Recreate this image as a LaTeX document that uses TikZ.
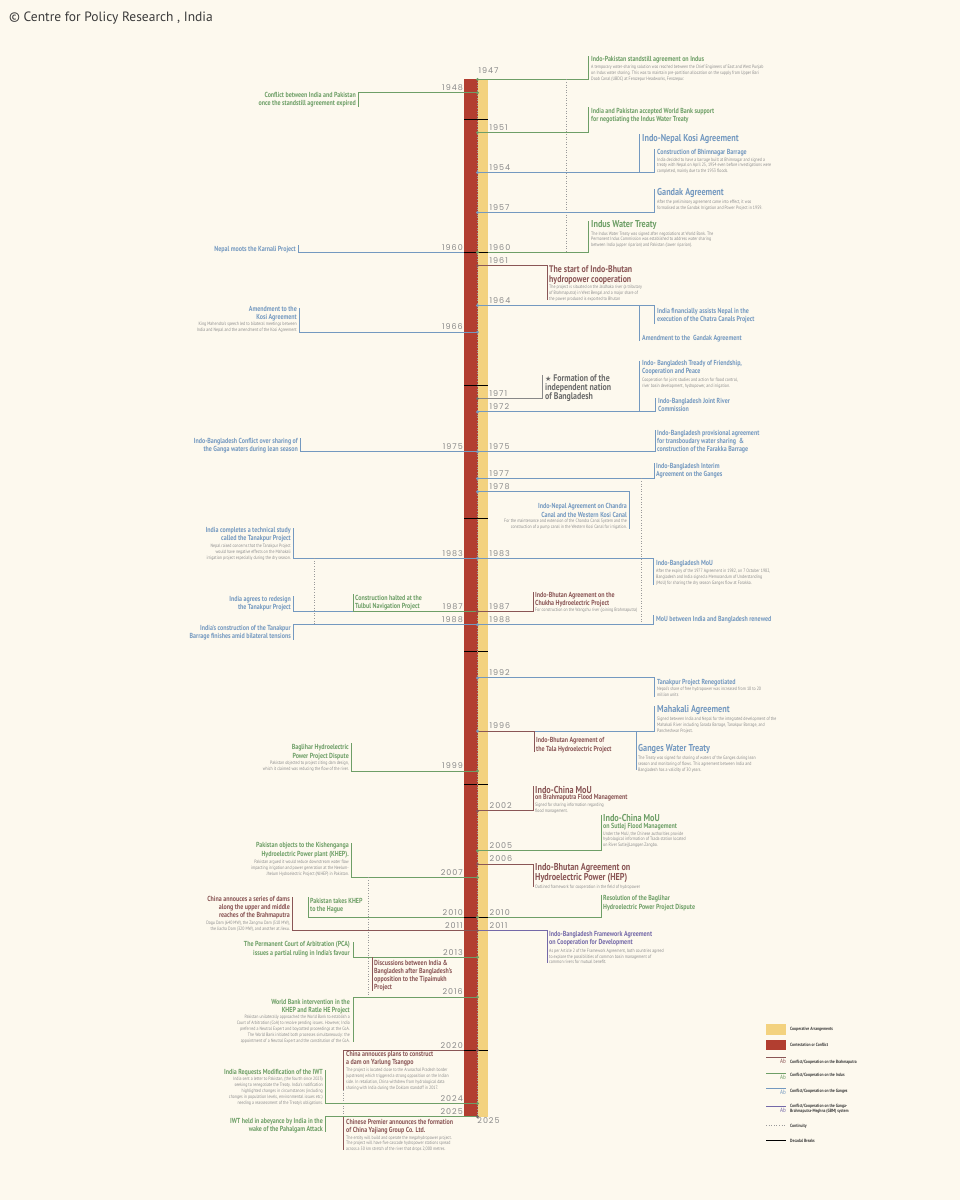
\documentclass[tikz,border=0pt]{standalone}
\usepackage{fontspec}
\setmainfont{PT Sans}[FakeStretch=0.82]
\newfontfamily\headfont{PT Sans}
\newfontfamily\yearfont{Poppins}[LetterSpace=12]
\newfontfamily\symfont{DejaVu Sans}
\usetikzlibrary{positioning}
\definecolor{PaperBg}{HTML}{FDF9EE}
\definecolor{Coop}{HTML}{F3D27F}
\definecolor{Conf}{HTML}{B23E30}
\definecolor{Bra}{HTML}{8A5656}
\definecolor{Ind}{HTML}{6E9F67}
\definecolor{Gan}{HTML}{7499C0}
\definecolor{Gbm}{HTML}{7469A8}
\definecolor{Ban}{HTML}{6A6A6A}
\definecolor{DescGray}{HTML}{8C8C8C}
\definecolor{ContGray}{HTML}{9A9A9A}
\definecolor{YearGray}{HTML}{8A8A8A}
\definecolor{LegText}{HTML}{3A3A3A}
\definecolor{TitleGray}{HTML}{3A3A3A}
\tikzset{
  rgt/.style={anchor=north west,align=left},
  lft/.style={anchor=north east,align=right},
  tS/.style={inner sep=0pt,font=\fontsize{7.3}{8}\selectfont\bfseries},
  tM/.style={inner sep=0pt,font=\fontsize{9.6}{9.4}\selectfont\bfseries},
  tL/.style={inner sep=0pt,font=\fontsize{10}{9}\selectfont\bfseries},
  dS/.style={inner sep=0pt,align=left,text=DescGray,font=\fontsize{4.8}{5.9}\selectfont},
  conn/.style={line width=0.9pt},
  cB/.style={conn,draw=Bra},
  cI/.style={conn,draw=Ind},
  cG/.style={conn,draw=Gan},
  cM/.style={conn,draw=Gbm},
  cK/.style={conn,draw=Ban!80},
  cont/.style={draw=ContGray,line width=0.6pt,dotted},
  dec/.style={draw=black,line width=1pt},
  yrR/.style={anchor=base west,inner sep=0pt,xshift=12pt,yshift=2.2pt,
              font=\yearfont\fontsize{8}{8}\selectfont,text=YearGray},
  yrL/.style={anchor=base east,inner sep=0pt,xshift=-14.5pt,yshift=2.2pt,
              font=\yearfont\fontsize{8}{8}\selectfont,text=YearGray},
  lgT/.style={anchor=west,inner sep=0pt,align=left,text=LegText,
              font=\fontsize{4.6}{5.6}\selectfont\bfseries},
  lgA/.style={anchor=east,inner sep=0pt,font=\fontsize{6.2}{6.2}\selectfont}
}

\begin{document}
\begin{tikzpicture}[x=1pt,y=-1pt]
  \fill[PaperBg] (0,0) rectangle (960,1200);
  \useasboundingbox (0,0) rectangle (960,1200);

  \node[anchor=west,inner sep=0pt,text=TitleGray,font=\headfont\fontsize{13.5}{15}\selectfont] (head) at (9,18) {© Centre for Policy Research , India};

  % axis
  \foreach \yy in {1947,...,2025}
    \coordinate (d\yy) at (477.5,{119.3+(\yy-1950)*13.3});
  \fill[Conf] (464,79) rectangle (477.5,1117);
  \fill[Coop] (477.5,80) rectangle (488,1117);

  % 1947
  \coordinate (k1947) at (588,56);
  \draw[cI] (d1947) -| (k1947);
  \node[tS,rgt,text=Ind] (t1947) at (591,56.5) {Indo-Pakistan standstill agreement on Indus};
  \node[dS,below right=1.2pt and 0pt of t1947.south west] (s1947) {A temporary water-sharing solution was reached between the Chief Engineers of East and West Punjab\\on Indus water sharing. This was to maintain pre-partition allocation on the supply from Upper Bari\\Doab Canal (UBDC) at Ferozepur Headworks, Ferozepur.};
  \coordinate (c1947) at (566,79.4);
  \coordinate (c1960) at (566,252.3);
  \draw[cont] (c1947) -- (c1960);

  % 1948
  \coordinate (k1948) at (358,107);
  \draw[cI] (d1948) -| (k1948);
  \node[tS,lft,text=Ind] (t1948) at (356,92.5) {Conflict between India and Pakistan\\once the standstill agreement expired};

  % 1951
  \coordinate (k1951) at (588,107);
  \draw[cI] (d1951) -| (k1951);
  \node[tS,rgt,text=Ind] (t1951) at (591,107.7) {India and Pakistan accepted World Bank support\\for negotiating the Indus Water Treaty};

  % 1954
  \coordinate (k1954a) at (639,134);
  \coordinate (k1954b) at (654,149);
  \draw[cG] (d1954) -| (k1954a);
  \draw[cG] (d1954) -| (k1954b);
  \node[tL,rgt,text=Gan] (t1954a) at (642,134.5) {Indo-Nepal Kosi Agreement};
  \node[tS,rgt,text=Gan] (t1954b) at (657,149.3) {Construction of Bhimnagar Barrage};
  \node[dS,below right=1pt and 0pt of t1954b.south west] (s1954) {India decided to have a barrage built at Bhimnagar and signed a\\treaty with Nepal on April 25, 1954 even before investigations were\\completed, mainly due to the 1953 floods.};

  % 1957
  \coordinate (k1957) at (654,189);
  \draw[cG] (d1957) -| (k1957);
  \node[tL,rgt,text=Gan] (t1957) at (657,188.5) {Gandak Agreement};
  \node[dS,below right=1.5pt and 0pt of t1957.south west] (s1957) {After the preliminary agreement came into effect, it was\\formalised as the Gandak Irrigation and Power Project in 1959.};

  % 1960
  \coordinate (k1960) at (588,221);
  \draw[cI] (d1960) -| (k1960);
  \node[tL,rgt,text=Ind] (t1960) at (591,220.5) {Indus Water Treaty};
  \node[dS,below right=1.5pt and 0pt of t1960.south west] (s1960) {The Indus Water Treaty was signed after negotiations at World Bank. The\\Permanent Indus Commission was established to address water sharing\\between India (upper riparian) and Pakistan (lower riparian).};
  \coordinate (k1960l) at (298,245);
  \draw[cG] (d1960) -| (k1960l);
  \node[tS,lft,text=Gan] (t1960l) at (296,246.3) {Nepal moots the Karnali Project};

  % 1961
  \coordinate (k1961) at (547,300);
  \draw[cB] (d1961) -| (k1961);
  \node[tM,rgt,text=Bra] (t1961) at (549,265.6) {The start of Indo-Bhutan\\hydropower cooperation};
  \node[dS,below right=1pt and 0pt of t1961.south west] (s1961) {The project is situated on the Jaldhaka river (a tributary\\of Brahmaputra) in West Bengal and a major share of\\the power produced is exported to Bhutan};

  % 1964
  \coordinate (k1964a) at (654,324);
  \coordinate (k1964b) at (639,341);
  \draw[cG] (d1964) -| (k1964a);
  \draw[cG] (d1964) -| (k1964b);
  \node[tS,rgt,text=Gan] (t1964a) at (657,308.2) {India financially assists Nepal in the\\execution of the Chatra Canals Project};
  \node[tS,rgt,text=Gan] (t1964b) at (642,335.5) {Amendment to the \ Gandak Agreement};

  % 1966
  \coordinate (k1966) at (299,308);
  \draw[cG] (d1966) -| (k1966);
  \node[tS,lft,text=Gan] (t1966) at (297,306.2) {Amendment to the\\Kosi Agreement};
  \node[dS,align=right,below left=1pt and 0pt of t1966.south east] (s1966) {King Mahendra's speech led to bilateral meetings between\\India and Nepal and the amendment of the Kosi Agreement};

  % 1971
  \coordinate (k1971) at (542,375);
  \draw[cK] (d1971) -| (k1971);
  \node[tM,rgt,text=Ban,font=\fontsize{9.6}{8.4}\selectfont\bfseries] (t1971) at (545,374.6) {{\symfont\fontsize{7}{7}\selectfont ★} Formation of the\\independent nation\\of Bangladesh};

  % 1972
  \coordinate (k1972a) at (639,361);
  \coordinate (k1972b) at (655,398);
  \draw[cG] (d1972) -| (k1972a);
  \draw[cG] (d1972) -| (k1972b);
  \node[tS,rgt,text=Gan] (t1972a) at (642,360.5) {Indo- Bangladesh Tready of Friendship,\\Cooperation and Peace};
  \node[dS,below right=2pt and 0pt of t1972a.south west] (s1972) {Cooperation for joint studies and action for flood control,\\river basin development, hydropower, and irrigation.};
  \node[tS,rgt,text=Gan] (t1972b) at (658,398.2) {Indo-Bangladesh Joint River\\Commission};

  % 1975
  \coordinate (k1975) at (655,430);
  \draw[cG] (d1975) -| (k1975);
  \node[tS,rgt,text=Gan] (t1975) at (657,430.5) {Indo-Bangladesh provisional agreement\\for transboudary water sharing \ \&\\construction of the Farakka Barrage};
  \coordinate (k1975l) at (300,438);
  \draw[cG] (d1975) -| (k1975l);
  \node[tS,lft,text=Gan] (t1975l) at (298,437.9) {Indo-Bangladesh Conflict over sharing of\\the Ganga waters during lean season};

  % 1977
  \coordinate (k1977) at (654,463);
  \draw[cG] (d1977) -| (k1977);
  \node[tS,rgt,text=Gan] (t1977) at (656,463.5) {Indo-Bangladesh Interim\\Agreement on the Ganges};
  \coordinate (c1977) at (641,478.4);
  \coordinate (c1988) at (641,624.7);
  \draw[cont] (c1977) -- (c1988);

  % 1978
  \coordinate (k1978) at (629,529);
  \draw[cG] (d1978) -| (k1978);
  \node[tS,lft,text=Gan,font=\fontsize{7.3}{9}\selectfont\bfseries] (t1978) at (627,502.9) {Indo-Nepal Agreement on Chandra\\Canal and the Western Kosi Canal};
  \node[dS,align=right,below left=1pt and 0pt of t1978.south east] (s1978) {For the maintenance and extension of the Chandra Canal System and the\\construction of a pump canal in the Western Kosi Canal for irrigation.};

  % 1983
  \coordinate (k1983) at (653,585);
  \draw[cG] (d1983) -| (k1983);
  \node[tS,rgt,text=Gan] (t1983) at (656,560.5) {Indo-Bangladesh MoU};
  \node[dS,below right=1.5pt and 0pt of t1983.south west] (s1983) {After the expiry of the 1977 Agreement in 1982, on 7 October 1982,\\Bangladesh and India signed a Memorandum of Understanding\\(MoU) for sharing the dry season Ganges flow at Farakka.};
  \coordinate (k1983l) at (293,528);
  \draw[cG] (d1983) -| (k1983l);
  \node[tS,lft,text=Gan] (t1983l) at (291,527.2) {India completes a technical study\\called the Tanakpur Project};
  \node[dS,align=right,below left=1.5pt and 0pt of t1983l.south east] (s1983l) {Nepal raised concerns that the Tanakpur Project\\would have negative effects on the Mahakali\\irrigation project especially during the dry season.};
  \coordinate (c1983l) at (314,558.2);
  \coordinate (c1988l) at (314,624.7);
  \draw[cont] (c1983l) -- (c1988l);

  % 1987
  \coordinate (k1987) at (533,592);
  \draw[cB] (d1987) -| (k1987);
  \node[tS,rgt,text=Bra] (t1987) at (535,592.2) {Indo-Bhutan Agreement on the\\Chukha Hydroelectric Project};
  \node[dS,below right=0.8pt and 0pt of t1987.south west] (s1987) {For construction on the Wangchu river (joining Brahmaputra)};
  \coordinate (k1987l) at (293,596);
  \draw[cG] (d1987) -| (k1987l);
  \node[tS,lft,text=Gan] (t1987l) at (291,596.2) {India agrees to redesign\\the Tanakpur Project};
  \coordinate (k1987m) at (353,594);
  \draw[cI] (d1987) -| (k1987m);
  \node[tS,rgt,text=Ind] (t1987m) at (355,595.5) {Construction halted at the\\Tulbul Navigation Project};

  % 1988
  \coordinate (k1988) at (653,615);
  \draw[cG] (d1988) -| (k1988);
  \node[tS,rgt,text=Gan] (t1988) at (656,616.5) {MoU between India and Bangladesh renewed};
  \coordinate (k1988l) at (293,640);
  \draw[cG] (d1988) -| (k1988l);
  \node[tS,lft,text=Gan] (t1988l) at (291,624.9) {India's construction of the Tanakpur\\Barrage finishes amid bilateral tensions};

  % 1992
  \coordinate (k1992) at (654,697);
  \draw[cG] (d1992) -| (k1992);
  \node[tS,rgt,text=Gan] (t1992) at (657,679) {Tanakpur Project Renegotiated};
  \node[dS,below right=1.2pt and 0pt of t1992.south west] (s1992) {Nepal's share of free hydropower was increased from 10 to 20\\million units};

  % 1996
  \coordinate (k1996a) at (654,706);
  \coordinate (k1996b) at (534,752);
  \coordinate (k1996c) at (636,770);
  \draw[cG] (d1996) -| (k1996a);
  \draw[cG] (d1996) -| (k1996c);
  \draw[cB] (d1996) -| (k1996b);
  \node[tL,rgt,text=Gan] (t1996a) at (657,705.5) {Mahakali Agreement};
  \node[dS,below right=1.5pt and 0pt of t1996a.south west] (s1996a) {Signed between India and Nepal for the integrated development of the\\Mahakali River including Sarada Barrage, Tanakpur Barrage, and\\Pancheshwar Project.};
  \node[tS,rgt,text=Bra,font=\fontsize{7.3}{9.3}\selectfont\bfseries] (t1996b) at (536,737.2) {Indo-Bhutan Agreement of\\the Tala Hydroelectric Project};
  \node[tL,rgt,text=Gan] (t1996c) at (638,744.5) {Ganges Water Treaty};
  \node[dS,below right=1.5pt and 0pt of t1996c.south west] (s1996c) {The Treaty was signed for sharing of waters of the Ganges during lean\\season and monitoring of flows. This agreement between India and\\Bangladesh has a validity of 30 years.};

  % 1999
  \coordinate (k1999) at (351,743);
  \draw[cI] (d1999) -| (k1999);
  \node[tS,lft,text=Ind,font=\fontsize{7.3}{8.4}\selectfont\bfseries] (t1999) at (349,744.5) {Baglihar Hydroelectric\\Power Project Dispute};
  \node[dS,align=right,below left=1.2pt and 0pt of t1999.south east] (s1999) {Pakistan objected to project citing dam design,\\which it claimed was reducing the flow of the river.};

  % 2002
  \coordinate (k2002) at (533,786);
  \draw[cB] (d2002) -| (k2002);
  \node[tL,rgt,text=Bra] (t2002) at (535,786) {Indo-China MoU};
  \node[tS,rgt,text=Bra,below right=0.6pt and 0pt of t2002.south west] (u2002) {on Brahmaputra Flood Management};
  \node[dS,below right=1.2pt and 0pt of u2002.south west] (s2002) {Signed for sharing information regarding\\flood management.};

  % 2005
  \coordinate (k2005) at (601,815);
  \draw[cI] (d2005) -| (k2005);
  \node[tL,rgt,text=Ind] (t2005) at (603,814.5) {Indo-China MoU};
  \node[tS,rgt,text=Ind,below right=0.6pt and 0pt of t2005.south west] (u2005) {on Sutlej Flood Management};
  \node[dS,below right=1.5pt and 0pt of u2005.south west] (s2005) {Under the MoU, the Chinese authorities provide\\hydrological information of Tsada station located\\on River Sutlej(Langqen Zangbo.};

  % 2006
  \coordinate (k2006) at (533,887);
  \draw[cB] (d2006) -| (k2006);
  \node[tL,rgt,text=Bra] (t2006) at (535,863) {Indo-Bhutan Agreement on\\Hydroelectric Power (HEP)};
  \node[dS,below right=1.5pt and 0pt of t2006.south west] (s2006) {Outlined framework for cooperation in the field of hydropower};

  % 2007
  \coordinate (k2007) at (351,843);
  \draw[cI] (d2007) -| (k2007);
  \node[tS,lft,text=Ind,font=\fontsize{7.3}{9.3}\selectfont\bfseries] (t2007) at (349,842.2) {Pakistan objects to the Kishenganga\\Hydroelectric Power plant (KHEP).};
  \node[dS,align=right,below left=1.2pt and 0pt of t2007.south east] (s2007) {Pakistan argued it would reduce downstream water flow\\impacting irrigation and power generation at the Neelum-\\Jhelum Hydroelectric Project (NJHEP) in Pakistan.};
  \coordinate (c2007) at (368,877.4);
  \coordinate (c2016) at (368,997.1);
  \draw[cont] (c2007) -- (c2016);

  % 2010
  \coordinate (k2010) at (601,895);
  \draw[cI] (d2010) -| (k2010);
  \node[tS,rgt,text=Ind,font=\fontsize{7.3}{9.3}\selectfont\bfseries] (t2010) at (603,894.9) {Resolution of the Baglihar\\Hydroelectric Power Project Dispute};
  \coordinate (k2010l) at (308,897);
  \draw[cI] (d2010) -| (k2010l);
  \node[tS,rgt,text=Ind] (t2010l) at (310,898.2) {Pakistan takes KHEP\\to the Hague};

  % 2011
  \coordinate (k2011l) at (292,897);
  \draw[cB] (d2011) -| (k2011l);
  \node[tS,lft,text=Bra] (t2011l) at (290,896.5) {China annouces a series of dams\\along the upper and middle\\reaches of the Brahmaputra};
  \node[dS,align=right,below left=1.2pt and 0pt of t2011l.south east] (s2011l) {Dagu Dam (640 MW), the Zangmu Dam (510 MW),\\the Jiacha Dam (320 MW), and another at Jiexu.};
  \coordinate (k2011) at (547,963);
  \draw[cM] (d2011) -| (k2011);
  \node[tS,rgt,text=Gbm] (t2011) at (549,931.5) {Indo-Bangladesh Framework Agreement\\on Cooperation for Development};
  \node[dS,below right=2pt and 0pt of t2011.south west] (s2011) {As per Article 2 of the Framework Agreement, both countries agreed\\to explore the possibilities of common basin management of\\common rivers for mutual benefit.};

  % 2013
  \coordinate (k2013) at (353,942);
  \draw[cI] (d2013) -| (k2013);
  \node[tS,lft,text=Ind,font=\fontsize{7.3}{9}\selectfont\bfseries] (t2013) at (350,941.5) {The Permanent Court of Arbitration (PCA)\\issues a partial ruling in India's favour};
  \coordinate (k2013b) at (372,957.2);
  \coordinate (k2013c) at (372,991);
  \draw[cB] (k2013b) -- (k2013c);
  \node[tS,rgt,text=Bra] (t2013b) at (374,960.5) {Discussions between India \&\\Bangladesh after Bangladesh's\\opposition to the Tipaimukh\\Project};

  % 2016
  \coordinate (k2016) at (353,1042);
  \draw[cI] (d2016) -| (k2016);
  \node[tS,lft,text=Ind] (t2016) at (350,998.8) {World Bank intervention in the\\KHEP and Ratle HE Project};
  \node[dS,align=right,below left=1.2pt and 0pt of t2016.south east] (s2016) {Pakistan unilaterally approached the World Bank to establish a\\Court of Arbitration (CoA) to resolve pending issues. However, India\\preferred a Neutral Expert and boycotted proceedings at the CoA.\\The World Bank initiated both processes simultaneously: the\\appointment of a Neutral Expert and the constitution of the CoA.};

  % 2020
  \coordinate (k2020) at (343,1090);
  \draw[cB] (d2020) -| (k2020);
  \node[tS,rgt,text=Bra] (t2020) at (346,1051.3) {China annouces plans to construct\\a dam on Yarlung Tsangpo};
  \node[dS,below right=1.5pt and 0pt of t2020.south west] (s2020) {The project is located close to the Arunachal Pradesh border\\(upstream) which triggered a strong opposition on the Indian\\side. In retaliation, China withdrew from hydrological data\\sharing with India during the Doklam standoff in 2017.};
  \coordinate (c2025) at (343,1116.8);
  \draw[cont] (k2020) -- (c2025);

  % 2024
  \coordinate (k2024) at (325,1070);
  \draw[cI] (d2024) -| (k2024);
  \node[tS,lft,text=Ind] (t2024) at (323,1068.8) {India Requests Modification of the IWT};
  \node[dS,align=right,below left=1.2pt and 0pt of t2024.south east] (s2024) {India sent a letter to Pakistan, (the fourth since 2023)\\seeking to renegotiate the Treaty. India's notification\\highlighted changes in circumstances (including\\changes in population levels, environmental issues etc.)\\needing a reassessment of the Treaty's obligations.};

  % 2025
  \coordinate (k2025) at (325,1132);
  \draw[cI] (d2025) -| (k2025);
  \node[tS,lft,text=Ind] (t2025) at (323,1117.8) {IWT held in abeyance by India in the\\wake of the Pahalgam Attack};
  \coordinate (k2025b) at (343,1150);
  \draw[cB] (c2025) -- (k2025b);
  \node[tS,rgt,text=Bra] (t2025b) at (346,1118.8) {Chinese Premier announces the formation\\of China Yajiang Group Co. Ltd.};
  \node[dS,below right=1.5pt and 0pt of t2025b.south west] (s2025b) {The entity will build and operate the megahydropower project.\\The project will have five cascade hydropower stations spread\\across a 50 km stretch of the river that drops 2,000 metres.};

  % decades, continuity, dots
  \foreach \yy in {1950,1960,...,2020}
    \draw[dec] ([xshift=-13.5pt]d\yy) -- ([xshift=10.5pt]d\yy);
  \draw[cont] (d1947) -- (d2025);
  \foreach \yy/\cc in {1947/Ind,1948/Ind,1951/Ind,1954/Gan,1957/Gan,1960/Ind,1961/Bra,1964/Gan,1966/Gan,1971/Ban,1972/Gan,1975/Gan,1977/Gan,1978/Gan,1983/Gan,1987/Bra,1988/Gan,1992/Gan,1996/Gan,1999/Ind,2002/Bra,2005/Ind,2006/Bra,2007/Ind,2010/Ind,2011/Bra,2013/Ind,2016/Ind,2020/Bra,2024/Ind,2025/Ban}
    \fill[\cc] (d\yy) circle (1.6);

  % years
  \foreach \yy in {1951,1954,1957,1960,1961,1964,1971,1972,1975,1977,1978,1983,1987,1988,1992,1996,2002,2005,2006,2010,2011}
    \node[yrR] (yr\yy) at (d\yy) {\yy};
  \foreach \yy in {1948,1960,1966,1975,1983,1987,1988,1999,2007,2010,2011,2013,2016,2020,2024,2025}
    \node[yrL] (yl\yy) at (d\yy) {\yy};
  \node[yrR,anchor=base,xshift=-1pt,yshift=4pt] (yt1947) at (d1947) {1947};
  \node[yrR,anchor=north,xshift=-1pt,yshift=-3pt] (yb2025) at (d2025) {2025};

  % legend
  \fill[Coop] (766,1024) rectangle (786,1034.5);
  \node[lgT] (lgCoop) at (790,1029) {Cooperative Arrangements};
  \fill[Conf] (766,1039.5) rectangle (786,1050);
  \node[lgT] (lgConf) at (790,1045) {Contestation or Conflict};
  \draw[cB,line width=0.7pt] (766,1057.3) -- (786,1057.3);
  \node[lgA,text=Bra] (ab1) at (786,1061.5) {Ab};
  \node[lgT] (lg1) at (790,1062) {Conflict/Cooperation on the Brahmaputra};
  \draw[cI,line width=0.7pt] (766,1073.3) -- (786,1073.3);
  \node[lgA,text=Ind] (ab2) at (786,1077.2) {Ab};
  \node[lgT] (lg2) at (790,1075.5) {Conflict/Cooperation on the Indus};
  \draw[cG,line width=0.7pt] (766,1088.7) -- (786,1088.7);
  \node[lgA,text=Gan] (ab3) at (786,1092.6) {Ab};
  \node[lgT] (lg3) at (790,1091.7) {Conflict/Cooperation on the Ganges};
  \draw[cM,line width=0.7pt] (766,1106.3) -- (786,1106.3);
  \node[lgA,text=Gbm] (ab4) at (786,1110.2) {Ab};
  \node[lgT] (lg4) at (790,1109) {Conflict/Cooperation on the Ganga-\\Brahmaputra-Meghna (GBM) system};
  \draw[cont] (766,1125.7) -- (786,1125.7);
  \node[lgT] (lg5) at (790,1126) {Continuity};
  \draw[dec,line width=0.8pt] (766,1140.3) -- (786,1140.3);
  \node[lgT] (lg6) at (790,1140.7) {Decadal Breaks};
\end{tikzpicture}
\end{document}
